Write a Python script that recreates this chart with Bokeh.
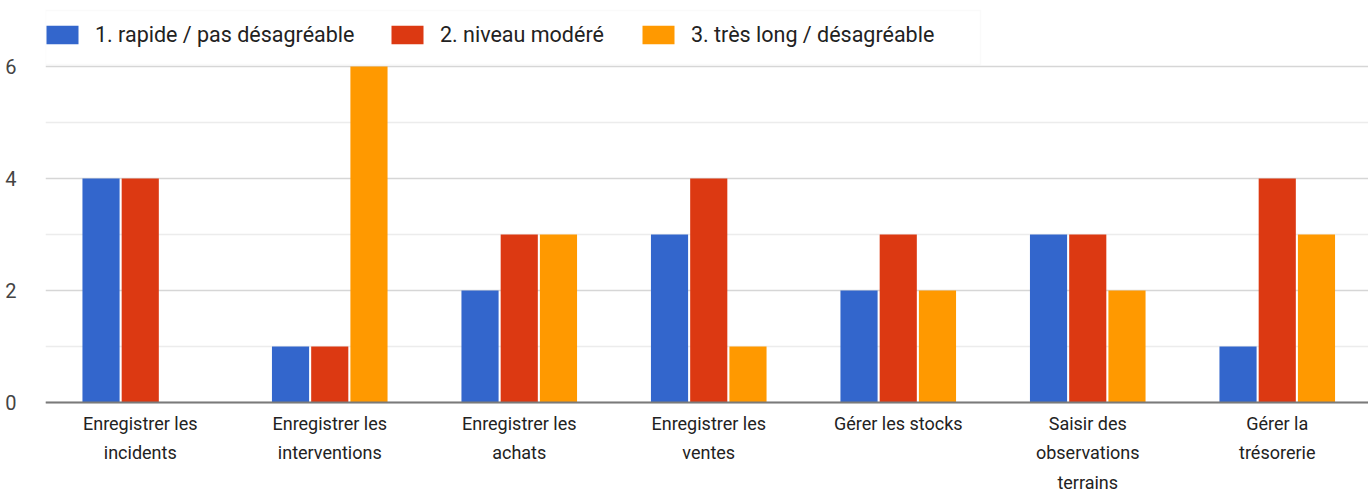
from bokeh.plotting import figure
from bokeh.models import ColumnDataSource, FixedTicker, Legend, LegendItem, Range1d, Span, BoxAnnotation
from bokeh.core.properties import value
from bokeh.transform import dodge
from bokeh.embed import file_html
from bokeh.resources import INLINE

categories = [
    "Enregistrer les\nincidents",
    "Enregistrer les\ninterventions",
    "Enregistrer les\nachats",
    "Enregistrer les\nventes",
    "Gérer les stocks",
    "Saisir des\nobservations\nterrains",
    "Gérer la\ntrésorerie",
]
series_names = ["1. rapide / pas désagréable", "2. niveau modéré", "3. très long / désagréable"]
rapide = [4, 1, 2, 3, 2, 3, 1]
modere = [4, 1, 3, 4, 3, 3, 4]
tres_long = [0, 6, 3, 1, 2, 2, 3]
y_ticks = [0, 2, 4, 6]
y_minor = [1, 3, 5]
colors = ["#3366cc", "#dc3912", "#ff9900"]

FONT = "Roboto"
PX_PER_UNIT = 56.0
xs = list(range(len(categories)))
src = ColumnDataSource(dict(x=xs, a=rapide, b=modere, c=tres_long, label=categories))

p = figure(width=1368, height=493, output_backend="svg", toolbar_location=None,
           x_axis_location=None,
           x_range=Range1d(-0.5, -0.5 + 1323 / 189.5),
           y_range=Range1d(-91 / PX_PER_UNIT, 402 / PX_PER_UNIT),
           min_border_left=45, min_border_right=0, min_border_top=0, min_border_bottom=0)
p.outline_line_color = None
p.background_fill_color = "white"

# faint legend panel (screen units measured from the frame's bottom-left)
p.add_layout(BoxAnnotation(left=0, right=935, top=483, bottom=429,
                           left_units="screen", right_units="screen",
                           top_units="screen", bottom_units="screen",
                           fill_color="white", fill_alpha=1.0,
                           line_color="#efefef", line_width=1.5, level="underlay"))

step = 0.207
w = 0.196
rs = []
for col, off, c in zip(["a", "b", "c"], [-step, 0, step], colors):
    r = p.vbar(x=dodge("x", off, range=p.x_range), top=col, width=w, bottom=0,
               source=src, fill_color=c, line_color=None)
    rs.append(r)

# grids
p.xgrid.visible = False
p.ygrid.ticker = FixedTicker(ticks=y_ticks, minor_ticks=y_minor)
p.ygrid.grid_line_color = "#d6d6d6"
p.ygrid.grid_line_width = 1.5
p.ygrid.minor_grid_line_color = "#ececec"
p.ygrid.minor_grid_line_width = 1.5

# baseline
p.add_layout(Span(location=0, dimension="width", line_color="#7a7a7a", line_width=2))

# category labels under the baseline
p.text(x="x", y=-10 / PX_PER_UNIT, text="label", source=src,
       text_font=value(FONT), text_font_size="18px", text_color="#222222",
       text_align="center", text_baseline="top", text_line_height=1.41)

# y axis
p.yaxis.ticker = FixedTicker(ticks=y_ticks)
p.yaxis.axis_line_color = None
p.yaxis.major_tick_line_color = None
p.yaxis.minor_tick_line_color = None
p.yaxis.major_label_standoff = 23
p.yaxis.major_label_text_font = FONT
p.yaxis.major_label_text_font_size = "20px"
p.yaxis.major_label_text_color = "#444444"

# legends, one per series
for r, name, lx in zip(rs, series_names, [-3, 342, 593]):
    lg = Legend(items=[LegendItem(label=name, renderers=[r])], location=(lx, 446),
                orientation="horizontal", padding=0, margin=0, glyph_width=40,
                glyph_height=23, label_standoff=13, border_line_color=None,
                background_fill_alpha=0, label_text_font=FONT,
                label_text_font_size="21.5px", label_text_color="#222222")
    p.add_layout(lg)

open("out.html", "w").write(file_html(p, INLINE))
